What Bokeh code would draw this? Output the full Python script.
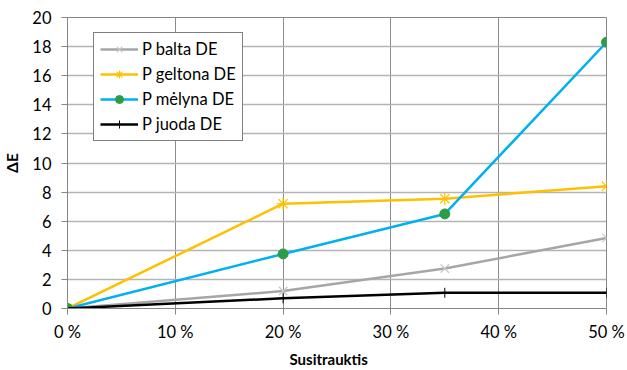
from bokeh.plotting import figure
from bokeh.models import FixedTicker, Range1d, Legend, LegendItem, Title
from bokeh.embed import file_html
from bokeh.resources import INLINE

# Susitraukimas (%) ir spalvų skirtumas ΔE
shrinkage = [0, 20, 35, 50]
p_balta = [0, 1.2, 2.75, 4.85]
p_geltona = [0, 7.2, 7.55, 8.4]
p_melyna = [0, 3.75, 6.5, 18.3]
p_juoda = [0, 0.7, 1.08, 1.08]

x_ticks = [0, 10, 20, 30, 40, 50]
x_tick_labels = ["0 %", "10 %", "20 %", "30 %", "40 %", "50 %"]
y_ticks = list(range(0, 21, 2))

FONT = "Lato"

p = figure(width=627, height=370, output_backend="svg", toolbar_location=None,
           x_range=Range1d(0, 50), y_range=Range1d(0, 20),
           min_border_left=67, min_border_right=21, min_border_top=17, min_border_bottom=0)
p.background_fill_color = "white"
p.border_fill_color = "white"
p.outline_line_color = "#868686"
p.outline_line_width = 1

p.xaxis.ticker = FixedTicker(ticks=x_ticks)
p.xaxis.major_label_overrides = {t: lab for t, lab in zip(x_ticks, x_tick_labels)}
p.yaxis.ticker = FixedTicker(ticks=y_ticks)

for ax in (p.xaxis, p.yaxis):
    ax.axis_line_color = "#868686"
    ax.major_tick_line_color = "#868686"
    ax.major_tick_in = 0
    ax.major_tick_out = 6
    ax.minor_tick_line_color = None
    ax.major_label_text_font = FONT
    ax.major_label_text_font_size = "16.5px"
    ax.major_label_text_color = "#000000"
    ax.axis_label_text_font = FONT
    ax.axis_label_text_font_size = "15.5px"
    ax.axis_label_text_font_style = "bold"
    ax.axis_label_text_color = "#000000"

p.yaxis.axis_label = "ΔE"
p.xaxis.major_label_standoff = 7
p.yaxis.major_label_standoff = 10
p.yaxis.axis_label_standoff = 8

# x-axis title as a panel below the axis
x_title = Title(text="Susitrauktis", align="left", offset=222, text_font=FONT,
                text_font_size="15px", text_font_style="bold", text_color="#000000",
                standoff=6)
p.add_layout(x_title, "below")

p.xgrid.grid_line_color = "#8c8c8c"
p.xgrid.grid_line_width = 1
p.ygrid.grid_line_color = "#b4b4b4"
p.ygrid.grid_line_width = 1.5

LW = 2.5

r_b_l = p.line(shrinkage, p_balta, line_color="#A6A6A6", line_width=LW)
r_b_m = p.scatter(shrinkage, p_balta, marker="x", size=12, line_color="#C8C8C8", line_width=1.2)

r_g_l = p.line(shrinkage, p_geltona, line_color="#FFC000", line_width=LW)
r_g_m = p.scatter(shrinkage, p_geltona, marker="asterisk", size=13, line_color="#FFC000", line_width=1.2)

r_m_l = p.line(shrinkage, p_melyna, line_color="#00B0F0", line_width=LW)
r_m_m = p.scatter(shrinkage, p_melyna, marker="circle", size=10, fill_color="#2E9B48",
                  line_color="#2E9B48", line_width=1)

r_j_l = p.line(shrinkage, p_juoda, line_color="#000000", line_width=LW)
r_j_m = p.scatter(shrinkage, p_juoda, marker="cross", size=10, line_color="#000000", line_width=1)

legend = Legend(items=[
    LegendItem(label="P balta DE", renderers=[r_b_l, r_b_m]),
    LegendItem(label="P geltona DE", renderers=[r_g_l, r_g_m]),
    LegendItem(label="P mėlyna DE", renderers=[r_m_l, r_m_m]),
    LegendItem(label="P juoda DE", renderers=[r_j_l, r_j_m]),
], location=(26, 167))
legend.label_text_font = FONT
legend.label_text_font_size = "16.5px"
legend.label_text_color = "#000000"
legend.border_line_color = "#000000"
legend.border_line_width = 1
legend.background_fill_color = "white"
legend.background_fill_alpha = 1
legend.glyph_width = 38
legend.glyph_height = 20
legend.label_height = 20
legend.label_standoff = 4
legend.padding = 6
legend.spacing = 5
legend.margin = 0
p.add_layout(legend, "center")

open("out.html", "w").write(file_html(p, INLINE))
